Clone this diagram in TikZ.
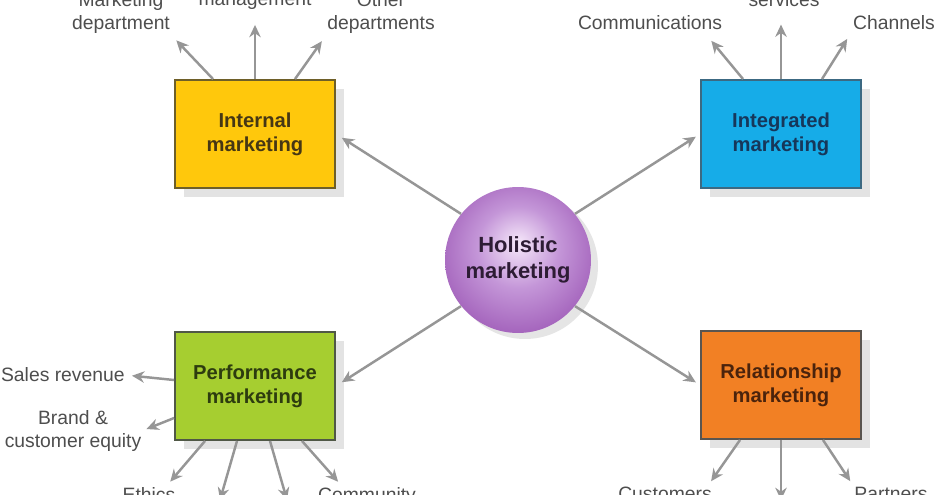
\documentclass[tikz,border=0pt]{standalone}
\usepackage{fontspec}
\setmainfont{Liberation Sans}
\usepackage{xcolor}
\usepackage{tikz}
\usetikzlibrary{arrows.meta, positioning, shadows}

\definecolor{intyellow}{RGB}{255,200,12}
\definecolor{intborder}{RGB}{110,95,40}
\definecolor{inttext}{RGB}{70,55,20}
\definecolor{itgblue}{RGB}{22,172,232}
\definecolor{itgborder}{RGB}{60,105,130}
\definecolor{itgtext}{RGB}{22,55,90}
\definecolor{perfgreen}{RGB}{166,206,48}
\definecolor{perfborder}{RGB}{80,88,70}
\definecolor{perftext}{RGB}{45,60,15}
\definecolor{relorange}{RGB}{242,128,36}
\definecolor{relborder}{RGB}{90,85,80}
\definecolor{reltext}{RGB}{75,35,12}
\definecolor{holpale}{RGB}{246,232,250}
\definecolor{holmid}{RGB}{196,150,216}
\definecolor{holpurple}{RGB}{150,78,176}
\definecolor{holdark}{RGB}{132,62,160}
\definecolor{holtext}{RGB}{45,28,52}
\definecolor{labgray}{RGB}{78,78,78}
\definecolor{arrgray}{RGB}{150,150,150}

\pgfdeclareradialshading{holshade}{\pgfpoint{0bp}{6bp}}{%
  color(0bp)=(holpale); color(14bp)=(holmid); color(34bp)=(holpurple);
  color(47bp)=(holdark); color(50bp)=(holdark)}

\begin{document}
\begin{tikzpicture}[x=0.02cm, y=-0.02cm,
  mbox/.style={draw, line width=1.1pt, minimum width=3.2cm, minimum height=2.16cm,
    align=center, font=\fontsize{11.5}{13.5}\selectfont\bfseries,
    drop shadow={shadow xshift=0.18cm, shadow yshift=-0.18cm, fill=black!11, opacity=1}},
  holcircle/.style={circle, minimum size=2.92cm, inner sep=0pt, shading=holshade,
    align=center, text=holtext, font=\fontsize{12.5}{15}\selectfont\bfseries,
    drop shadow={shadow xshift=0.14cm, shadow yshift=-0.12cm, fill=black!10, opacity=1}},
  lab/.style={align=center, text=labgray, inner sep=0pt, font=\fontsize{11}{13}\selectfont},
  arr/.style={draw=arrgray, line width=1.4pt, -{Stealth[length=7pt, width=6.5pt]}}]
\path[use as bounding box, fill=white] (0,0) rectangle (942,494);

% the four boxes and the circle
\node[mbox, fill=intyellow, draw=intborder, text=inttext] (internal) at (255,134) {Internal\\marketing};
\node[mbox, fill=itgblue, draw=itgborder, text=itgtext] (integrated) at (781,134) {Integrated\\marketing};
\node[mbox, fill=perfgreen, draw=perfborder, text=perftext] (performance) at (255,386) {Performance\\marketing};
\node[mbox, fill=relorange, draw=relborder, text=reltext] (relationship) at (781,385) {Relationship\\marketing};
\node[holcircle] (holistic) at (518,260) {Holistic\\marketing};

% labels round the boxes
\node[lab, anchor=south] (mktdept) at (121,34) {Marketing\\department};
\node[lab, anchor=south] (seniormgmt) at (255,10) {Senior\\management};
\node[lab, anchor=south] (otherdept) at (381,34) {Other\\departments};
\node[lab, anchor=south] (comms) at (650,30) {Communications};
\node[lab, anchor=south] (prodserv) at (784,7) {Products \&\\services};
\node[lab, anchor=south] (channels) at (894,30) {Channels};
\node[lab, anchor=east] (sales) at (125,375) {Sales revenue};
\node[lab] (brand) at (73,431) {Brand \&\\customer equity};
\node[lab, anchor=north] (ethics) at (149,487) {Ethics};
\node[lab, anchor=north] (community) at (367,487) {Community};
\node[lab, anchor=north] (customers) at (665,487) {Customers};
\node[lab, anchor=north] (partners) at (891,487) {Partners};
\coordinate (perfmidA) at (220,500);
\coordinate (perfmidB) at (287,500);
\coordinate (relmid) at (781,500);

% arrows from the circle
\draw[arr, shorten >=0.14cm] (holistic.141) -- (internal.east);
\draw[arr, shorten >=0.1cm] (holistic.39) -- (integrated.west);
\draw[arr, shorten >=0.14cm] (holistic.219) -- (performance.east);
\draw[arr, shorten >=0.1cm] (holistic.-39) -- (relationship.west);

% arrows from the boxes
\draw[arr, shorten >=5pt] ([xshift=-0.84cm]internal.north) -- (mktdept.south east);
\draw[arr, shorten >=8.5pt] (internal.north) -- (seniormgmt.south);
\draw[arr, shorten >=5pt] ([xshift=0.8cm]internal.north) -- (otherdept.south west);
\draw[arr, shorten >=8pt] ([xshift=-0.76cm]integrated.north) -- ([xshift=-0.4cm]comms.south east);
\draw[arr, shorten >=10pt] (integrated.north) -- (integrated.north |- prodserv.south);
\draw[arr, shorten >=6pt] ([xshift=0.82cm]integrated.north) -- (channels.south west);
\draw[arr, shorten >=4pt] ([yshift=0.12cm]performance.west) -- (sales.east);
\draw[arr, shorten >=3pt] ([yshift=-0.64cm]performance.west) -- (brand.east);
\draw[arr, shorten >=4pt] ([xshift=-1cm]performance.south) -- ([xshift=-0.2cm]ethics.north east);
\draw[arr] ([xshift=-0.36cm]performance.south) -- (perfmidA);
\draw[arr] ([xshift=0.3cm]performance.south) -- (perfmidB);
\draw[arr, shorten >=4pt] ([xshift=0.94cm]performance.south) -- ([xshift=0.5cm]community.north west);
\draw[arr, shorten >=4pt] ([xshift=-0.82cm]relationship.south) -- ([xshift=-0.1cm]customers.north east);
\draw[arr] (relationship.south) -- (relmid);
\draw[arr, shorten >=4pt] ([xshift=0.84cm]relationship.south) -- (partners.north west);
\end{tikzpicture}
\end{document}
